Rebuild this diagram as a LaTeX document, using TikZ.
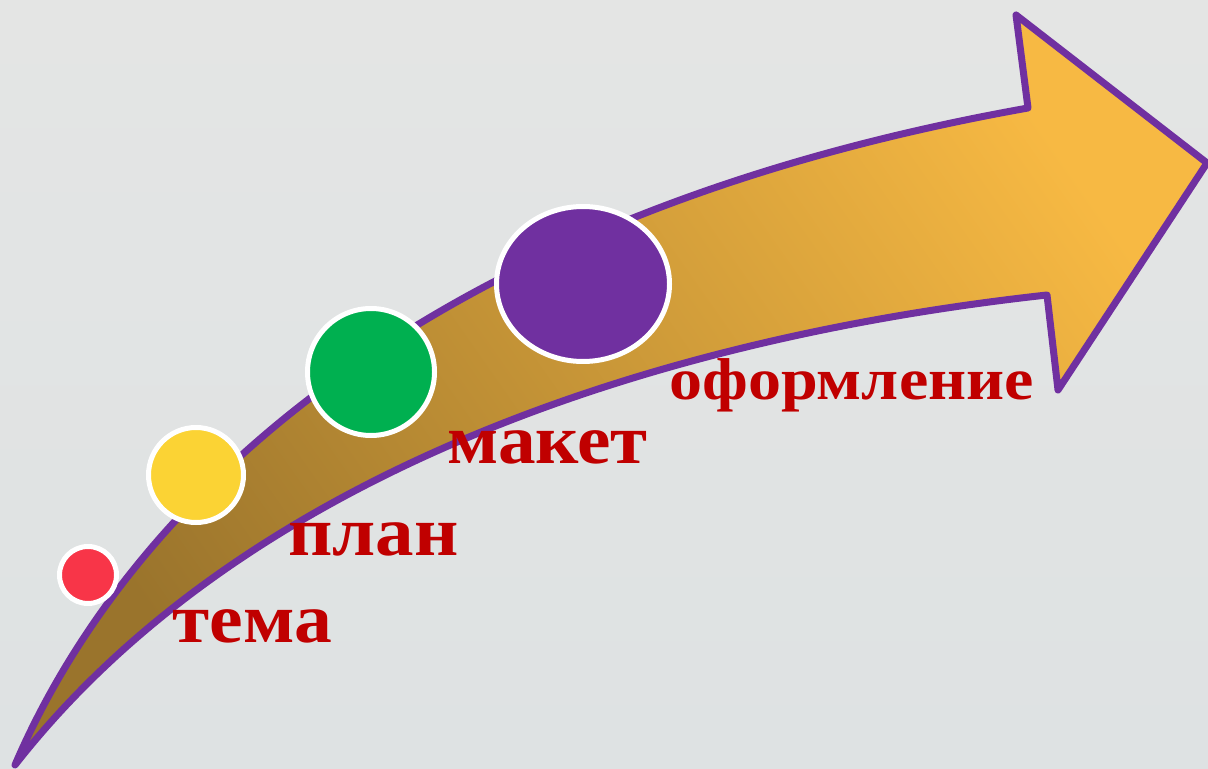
\documentclass[tikz,border=0pt]{standalone}
\usepackage{graphicx}
\usepackage{fontspec}
\setmainfont{Liberation Serif}
\usetikzlibrary{shapes.geometric}
\definecolor{bgtop}{HTML}{E4E5E4}
\definecolor{bgbot}{HTML}{DEE2E3}
\definecolor{arrowline}{HTML}{7030A0}
\definecolor{arrowlight}{HTML}{F7B943}
\definecolor{arrowdark}{HTML}{9A742C}
\definecolor{dotred}{HTML}{F83548}
\definecolor{dotyellow}{HTML}{FBD334}
\definecolor{dotgreen}{HTML}{00B050}
\definecolor{dotpurple}{HTML}{7030A0}
\definecolor{txtred}{HTML}{C00000}
\tikzset{
  dotnode/.style={circle, draw=white, line width=2.5pt, inner sep=0pt},
  lbl/.style={anchor=base west, inner sep=0pt, text=txtred, font=\fontsize{35pt}{40pt}\selectfont\bfseries},
  lblsmall/.style={lbl, font=\fontsize{29.5pt}{34pt}\selectfont\bfseries},
  bigarrow/.style={draw=arrowline, line width=3.5pt, line join=round,
    top color=arrowlight, bottom color=arrowdark, shading angle=-55}
}
\begin{document}
\begin{tikzpicture}[x=0.5pt,y=-0.5pt]
\useasboundingbox (0,0) rectangle (1208,769);
\fill[top color=bgtop, bottom color=bgbot] (0,0) rectangle (1208,769);
\path[bigarrow]
  (15,765) .. controls (120,520) and (400,220) .. (1028,108)
  -- (1016,15) -- (1207,163) -- (1058,390) -- (1047,295)
  .. controls (620,342) and (230,490) .. (15,765) -- cycle;
\node[dotnode, fill=dotred, minimum size=28.5pt] (red) at (88,575) {};
\node[dotnode, fill=dotyellow, minimum size=47.5pt] (yellow) at (196,475) {};
\node[dotnode, fill=dotgreen, minimum size=63.5pt] (green) at (371,372) {};
\node[dotnode, ellipse, fill=dotpurple, minimum width=86.5pt, minimum height=77.5pt] (purple) at (583,284) {};
\node[lbl] (tema) at (172,642) {\scalebox{1.08}[1]{тема}};
\node[lbl] (plan) at (288,555) {\scalebox{1.10}[1]{план}};
\node[lbl] (maket) at (447,463) {\scalebox{1.075}[1]{макет}};
\node[lblsmall] (oform) at (669,400) {\scalebox{1.12}[1]{оформление}};
\end{tikzpicture}
\end{document}
